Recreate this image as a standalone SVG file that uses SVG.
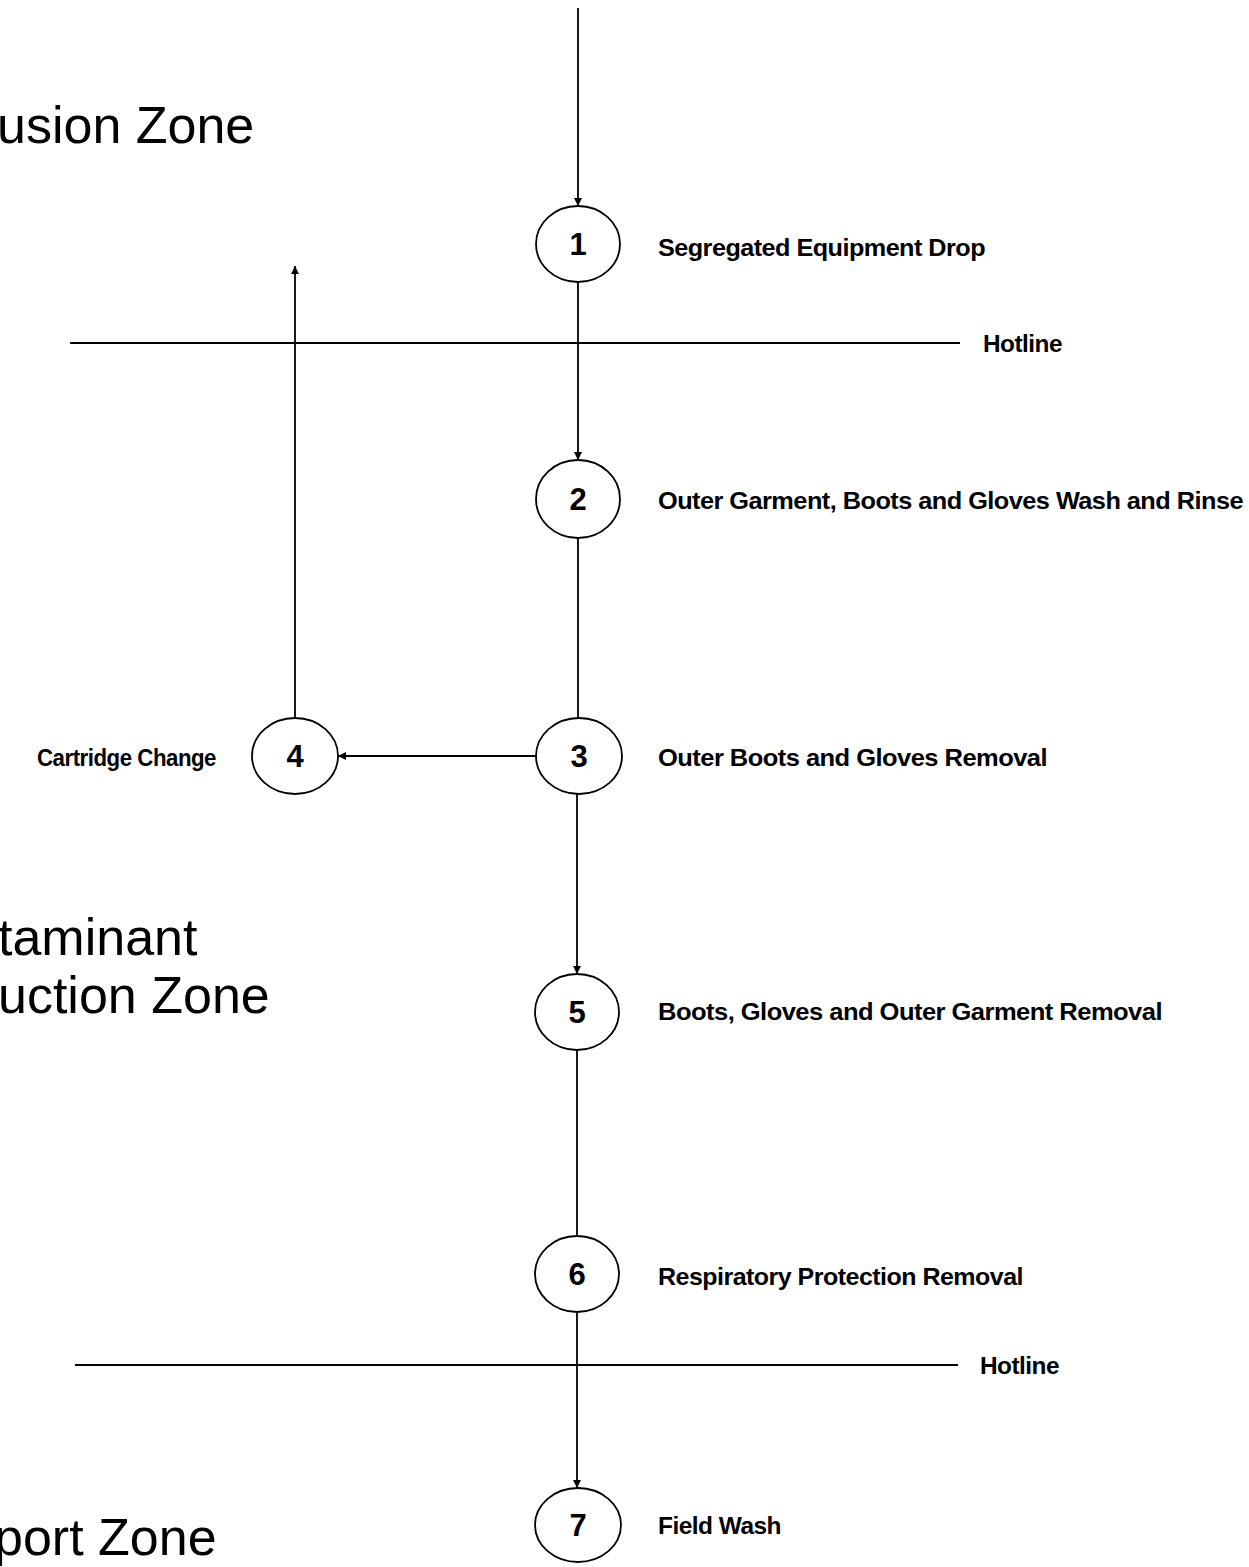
<svg xmlns="http://www.w3.org/2000/svg" width="1249" height="1567" viewBox="0 0 1249 1567">
<style>
.zone{font-family:"Liberation Sans",Arial,sans-serif;font-size:52px;fill:#000}
.lbl{font-family:"Liberation Sans",Arial,sans-serif;font-size:24px;font-weight:bold;fill:#000;letter-spacing:-0.5px}
.num{font-family:"Liberation Sans",Arial,sans-serif;font-size:31px;font-weight:bold;fill:#000;text-anchor:middle}
.node ellipse{fill:#fff;stroke:#000;stroke-width:1.8}
.ln{stroke:#000;stroke-width:1.8;fill:none}
</style>
<defs>
<marker id="ah" viewBox="0 0 10 10" refX="10" refY="5" markerWidth="9" markerHeight="8" markerUnits="userSpaceOnUse" orient="auto">
<path d="M0,0 L10,5 L0,10 z" fill="#000"/>
</marker>
</defs>
<rect width="1249" height="1567" fill="#fff"/>
<g id="zones">
<text class="zone" x="-3" y="143">usion Zone</text>
<text class="zone" x="-2" y="955">taminant</text>
<text class="zone" x="-2" y="1013">uction Zone</text>
<text class="zone" x="-6" y="1555">port Zone</text>
</g>
<g id="hotlines">
<line class="ln" x1="70" y1="343" x2="960" y2="343"/>
<text class="lbl" x="983" y="352" textLength="79" lengthAdjust="spacingAndGlyphs">Hotline</text>
<line class="ln" x1="75" y1="1365" x2="958" y2="1365"/>
<text class="lbl" x="980" y="1374" textLength="79" lengthAdjust="spacingAndGlyphs">Hotline</text>
</g>
<g id="connectors">
<line class="ln" x1="578" y1="8" x2="578" y2="206" marker-end="url(#ah)"/>
<line class="ln" x1="578" y1="282" x2="578" y2="460" marker-end="url(#ah)"/>
<line class="ln" x1="578" y1="538" x2="578" y2="718"/>
<line class="ln" x1="536" y1="756" x2="338" y2="756" marker-end="url(#ah)"/>
<line class="ln" x1="295" y1="718" x2="295" y2="266" marker-end="url(#ah)"/>
<line class="ln" x1="577" y1="794" x2="577" y2="974" marker-end="url(#ah)"/>
<line class="ln" x1="577" y1="1050" x2="577" y2="1236"/>
<line class="ln" x1="577" y1="1312" x2="577" y2="1488" marker-end="url(#ah)"/>
</g>
<g id="node1" class="node"><ellipse cx="578" cy="244" rx="42" ry="38"/><text class="num" x="578" y="255">1</text></g>
<g id="node2" class="node"><ellipse cx="578" cy="499" rx="42" ry="39"/><text class="num" x="578" y="510">2</text></g>
<g id="node3" class="node"><ellipse cx="579" cy="756" rx="43" ry="38"/><text class="num" x="579" y="767">3</text></g>
<g id="node4" class="node"><ellipse cx="295" cy="756" rx="43" ry="38"/><text class="num" x="295" y="767">4</text></g>
<g id="node5" class="node"><ellipse cx="577" cy="1012" rx="42" ry="38"/><text class="num" x="577" y="1023">5</text></g>
<g id="node6" class="node"><ellipse cx="577" cy="1274" rx="42" ry="38"/><text class="num" x="577" y="1285">6</text></g>
<g id="node7" class="node"><ellipse cx="578" cy="1525" rx="43" ry="37"/><text class="num" x="578" y="1536">7</text></g>
<g id="labels">
<text class="lbl" x="658" y="256" textLength="327" lengthAdjust="spacingAndGlyphs">Segregated Equipment Drop</text>
<text class="lbl" x="658" y="509" textLength="585" lengthAdjust="spacingAndGlyphs">Outer Garment, Boots and Gloves Wash and Rinse</text>
<text class="lbl" x="658" y="766" textLength="389" lengthAdjust="spacingAndGlyphs">Outer Boots and Gloves Removal</text>
<text class="lbl" x="37" y="766" textLength="179" lengthAdjust="spacingAndGlyphs">Cartridge Change</text>
<text class="lbl" x="658" y="1020" textLength="504" lengthAdjust="spacingAndGlyphs">Boots, Gloves and Outer Garment Removal</text>
<text class="lbl" x="658" y="1285" textLength="365" lengthAdjust="spacingAndGlyphs">Respiratory Protection Removal</text>
<text class="lbl" x="658" y="1534" textLength="123" lengthAdjust="spacingAndGlyphs">Field Wash</text>
</g>
</svg>
